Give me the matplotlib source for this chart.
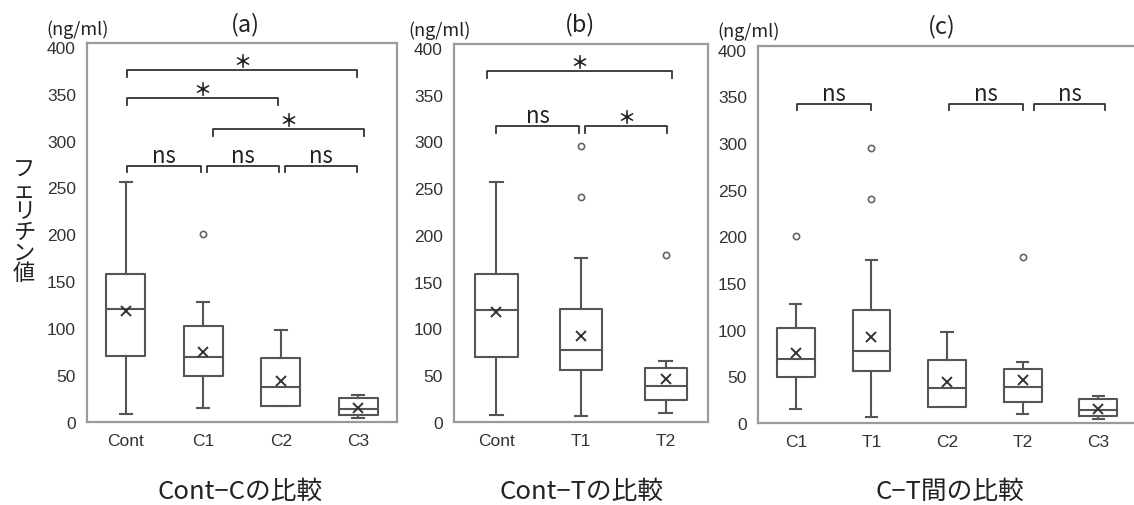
import matplotlib
matplotlib.use("Agg")
import matplotlib.pyplot as plt

# 群ごとの箱ひげ図統計量 (ng/ml)
GROUPS = ["Cont", "C1", "C2", "C3", "T1", "T2"]
WHISKER_LO = [8, 15, 17, 4, 6, 10]
Q1 = [70, 49, 17, 7, 56, 23]
MEDIAN = [120, 69, 37, 14, 77, 39]
Q3 = [158, 102, 68, 26, 121, 58]
WHISKER_HI = [256, 128, 98, 29, 175, 65]
MEAN = [118, 75, 44, 15, 92, 46]
FLIERS = [[], [200], [], [], [240, 295], [178]]

# 各パネルの並び
PANEL_A = ["Cont", "C1", "C2", "C3"]
PANEL_B = ["Cont", "T1", "T2"]
PANEL_C = ["C1", "T1", "C2", "T2", "C3"]

# 有意差ブラケット (x1, x2, y, label)
BRACKETS_A = [(1.02, 3.99, 375, "*"), (1.02, 2.96, 345, "*"), (2.13, 4.07, 312, "*"),
              (1.02, 1.97, 273, "ns"), (2.05, 2.98, 273, "ns"), (3.05, 3.99, 273, "ns")]
BRACKETS_B = [(0.89, 3.08, 375, "*"), (1.0, 1.98, 316, "ns"), (2.05, 3.02, 316, "*")]
BRACKETS_C = [(1.01, 2.0, 342, "ns"), (3.02, 4.01, 342, "ns"), (4.15, 5.09, 342, "ns")]

YTICKS = [0, 50, 100, 150, 200, 250, 300, 350, 400]

JP = ["Noto Sans CJK JP", "DejaVu Sans"]
BOX_COLOR = "#555555"
FRAME_COLOR = "#9a9a9a"
TEXT_COLOR = "#222222"

W, H = 1134, 506


def stats_for(name):
    i = GROUPS.index(name)
    return dict(whislo=WHISKER_LO[i], q1=Q1[i], med=MEDIAN[i], q3=Q3[i],
                whishi=WHISKER_HI[i], mean=MEAN[i], fliers=FLIERS[i], label=name)


def draw_panel(ax, names, brackets):
    stats = [stats_for(n) for n in names]
    lp = dict(color=BOX_COLOR, linewidth=1.5)
    ax.bxp(stats, positions=range(1, len(names) + 1), widths=0.5, capwidths=0.15,
           showmeans=True, patch_artist=False,
           boxprops=lp, whiskerprops=lp, capprops=lp, medianprops=lp,
           meanprops=dict(marker="x", markeredgecolor="#333333", markersize=7.5,
                          markeredgewidth=1.4),
           flierprops=dict(marker="o", markerfacecolor="white",
                           markeredgecolor="#666666", markersize=4.5,
                           markeredgewidth=1.2))
    ax.set_xlim(0.5, len(names) + 0.5)
    ax.set_ylim(0, 404)
    ax.set_yticks(YTICKS)
    ax.tick_params(length=0, labelsize=12.5, labelcolor="#333333", pad=8)
    for lab in ax.get_yticklabels() + ax.get_xticklabels():
        lab.set_family("Liberation Sans")
    for sp in ax.spines.values():
        sp.set_color(FRAME_COLOR)
        sp.set_linewidth(1.6)

    for x1, x2, y, label in brackets:
        ax.plot([x1, x1, x2, x2], [y - 7, y, y, y - 7],
                color="#333333", linewidth=1.3, clip_on=False)
        if label == "*":
            ax.text((x1 + x2) / 2, y - 1, "＊", ha="center", va="bottom",
                    fontsize=13, fontweight="bold", family=JP, color=TEXT_COLOR)
        else:
            ax.text((x1 + x2) / 2, y - 1, "ns", ha="center", va="bottom",
                    fontsize=16, family=JP, color=TEXT_COLOR)


fig = plt.figure(figsize=(W / 100, H / 100), dpi=100)


def add_axes(left, right, top, bottom):
    return fig.add_axes([left / W, 1 - bottom / H, (right - left) / W, (bottom - top) / H])


ax_a = add_axes(87, 397, 44, 423)
ax_b = add_axes(454, 708, 45, 423)
ax_c = add_axes(758, 1136, 47, 424)

draw_panel(ax_a, PANEL_A, BRACKETS_A)
draw_panel(ax_b, PANEL_B, BRACKETS_B)
draw_panel(ax_c, PANEL_C, BRACKETS_C)

# タイトルと単位
for x, y, t in [(245, 25, "(a)"), (580, 25, "(b)"), (942, 27, "(c)")]:
    fig.text(x / W, 1 - y / H, t, ha="center", va="center", fontsize=17,
             family=JP, color=TEXT_COLOR)
for x, y in [(78, 30), (440, 31), (749, 32)]:
    fig.text(x / W, 1 - y / H, "(ng/ml)", ha="center", va="center", fontsize=13,
             family=JP, color=TEXT_COLOR)

# 縦書きの軸ラベル
fig.text(24 / W, 1 - 222 / H, "フ\nェ\nリ\nチ\nン\n値", ha="center", va="center",
         fontsize=16, family=JP, color=TEXT_COLOR, linespacing=0.87)

# 下のラベル
for x, t in [(240, "Cont−Cの比較"), (582, "Cont−Tの比較"), (950, "C−T間の比較")]:
    fig.text(x / W, 1 - 492 / H, t, ha="center", va="center", fontsize=18.5,
             family=JP, color=TEXT_COLOR)

fig.savefig("out.png", dpi=100)
